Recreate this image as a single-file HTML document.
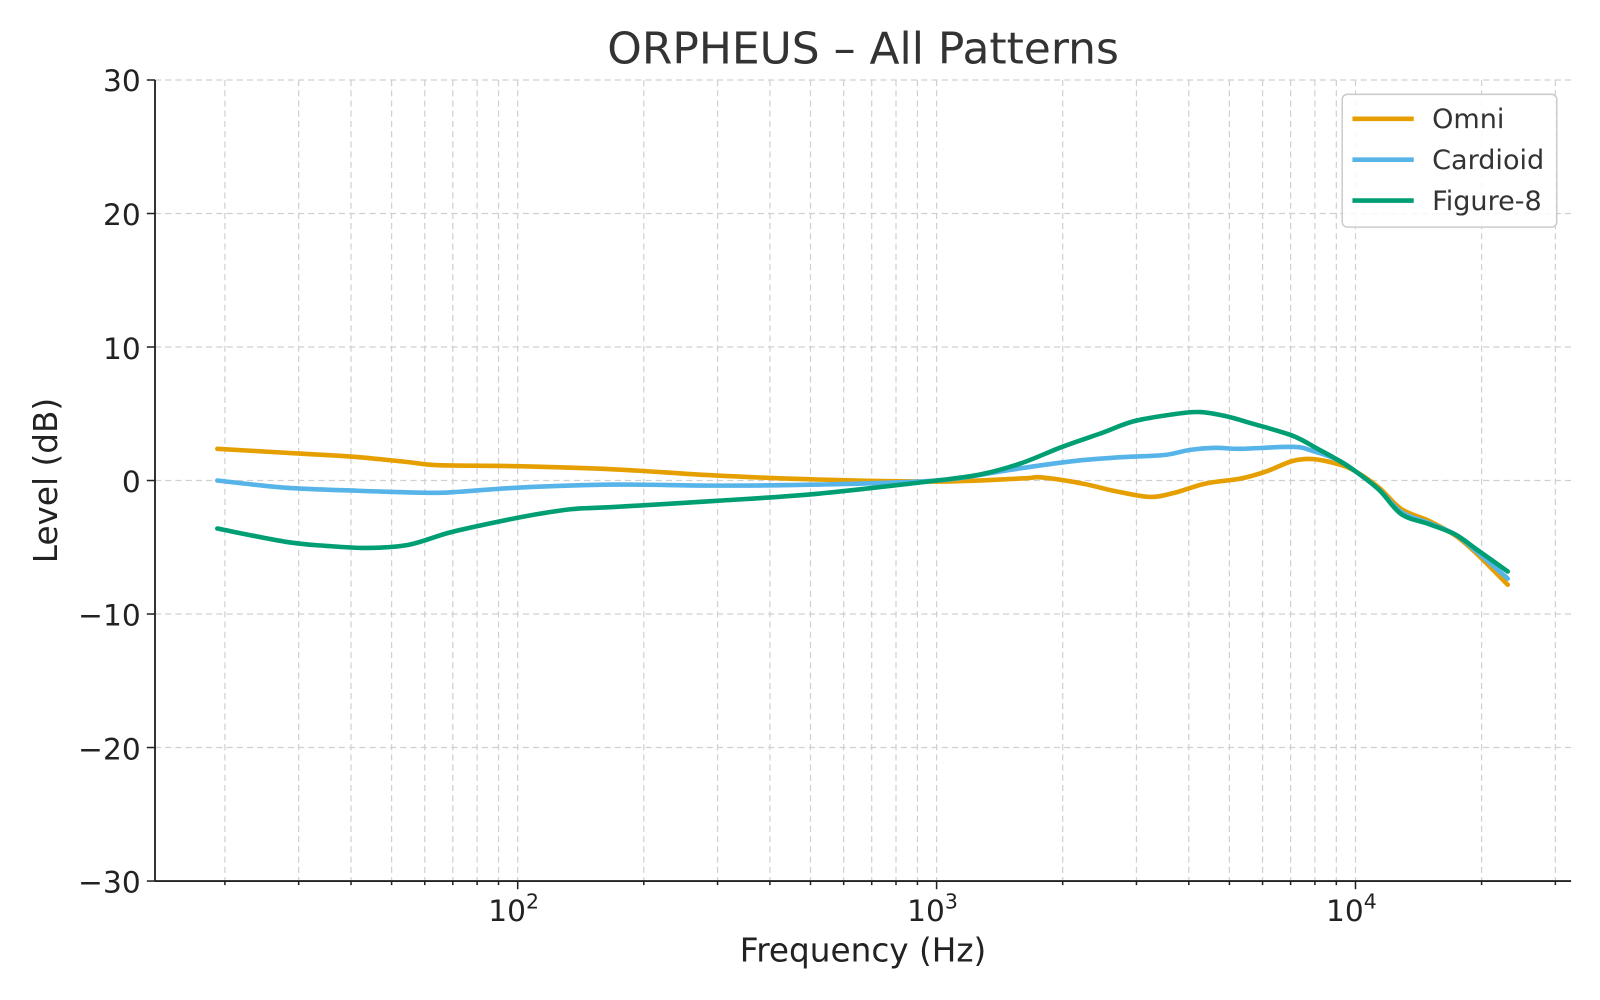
<!DOCTYPE html>
<html><head><meta charset="utf-8"><style>
body{margin:0;background:#fff;}
svg{display:block;font-family:"DejaVu Sans","Liberation Sans",sans-serif;}
</style></head><body>
<svg id="s" width="1600" height="1000" viewBox="0 0 1600 1000" xmlns="http://www.w3.org/2000/svg">
<rect width="1600" height="1000" fill="#fff"/>
<g transform="translate(-0.3,-0.7) scale(1.0217)">
<g id="grid" stroke="#d0d0d0" stroke-width="1.2" stroke-dasharray="6,4"></g>
<g id="ticks" stroke="#222" stroke-width="1.5"></g>
<g fill="none" stroke-width="4.5" stroke-linejoin="round" stroke-linecap="round">
<path id="o" stroke="#E69F00"/>
<path id="c" stroke="#56B4E9"/>
<path id="f" stroke="#009E73"/>
</g>
<line x1="152" y1="79" x2="152" y2="863" stroke="#222" stroke-width="1.8"/>
<line x1="152" y1="863" x2="1538" y2="863" stroke="#222" stroke-width="1.8"/>
<g font-size="29" fill="#222" text-anchor="end">
<text x="138" y="90">30</text><text x="138" y="221">20</text><text x="138" y="352">10</text>
<text x="138" y="482">0</text><text x="138" y="613">−10</text><text x="138" y="744">−20</text><text x="138" y="874">−30</text>
</g>
<g font-size="29" fill="#222" text-anchor="middle">
<text x="503" y="902">10<tspan font-size="20" dy="-12">2</tspan></text>
<text x="913" y="902">10<tspan font-size="20" dy="-12">3</tspan></text>
<text x="1323" y="902">10<tspan font-size="20" dy="-12">4</tspan></text>
<text x="845" y="942" font-size="32">Frequency (Hz)</text>
<text x="845" y="63" font-size="43" fill="#333">ORPHEUS – All Patterns</text>
<text transform="translate(56,471) rotate(-90)" font-size="32">Level (dB)</text>
</g>
<rect x="1314" y="93" width="210" height="130" rx="5" fill="#fff" fill-opacity="0.85" stroke="#ccc" stroke-width="1.5"/>
<g stroke-width="4.5"><line x1="1324" y1="117" x2="1384" y2="117" stroke="#E69F00"/>
<line x1="1324" y1="157" x2="1384" y2="157" stroke="#56B4E9"/>
<line x1="1324" y1="197" x2="1384" y2="197" stroke="#009E73"/></g>
<g font-size="26.5" fill="#333"><text x="1402" y="126">Omni</text><text x="1402" y="166">Cardioid</text><text x="1402" y="206">Figure-8</text></g>
</g>
</svg>
<script>
var ns="http://www.w3.org/2000/svg",g=document.getElementById('grid'),t=document.getElementById('ticks');
function ln(p,a){var l=document.createElementNS(ns,'line');for(var k in a)l.setAttribute(k,a[k]);p.appendChild(l);}
function X(f){return 507+(Math.log10(f)-2)*410;}
for(var d=1;d<=4;d++)for(var m=1;m<=9;m++){var f=m*Math.pow(10,d);if(f<20||f>30000)continue;var x=X(f);
ln(g,{x1:x,y1:79,x2:x,y2:863});ln(t,{x1:x,y1:863,x2:x,y2:m==1?871:867});}
for(var v=-30;v<=30;v+=10){var y=471-v*13.067;ln(g,{x1:152,y1:y,x2:1538,y2:y});ln(t,{x1:144,y1:y,x2:152,y2:y});}
var D={o:"213,440 300,445 350,448 400,453 430,456 507,457 600,460 700,466 800,470 917,472 1000,469 1020,468 1060,474 1090,481 1125,487 1150,483 1180,474 1215,469 1240,462 1265,452 1285,450 1310,455 1327,462 1350,478 1372,499 1400,511 1425,525 1445,542 1476,573",
c:"213,471 280,478 350,481 420,483 450,482 507,478 600,475 700,476 800,475 917,471 980,462 1020,456 1060,451 1100,448 1140,446 1165,441 1190,439 1215,440 1265,438 1285,442 1310,451 1327,462 1350,480 1372,502 1400,513 1425,524 1445,540 1476,567",
f:"213,518 280,531 320,535 360,537 400,534 440,522 480,513 520,505 560,499 600,497 700,491 800,484 917,471 960,465 1000,454 1040,438 1080,424 1110,413 1150,406 1175,404 1200,408 1225,415 1265,427 1290,440 1310,451 1327,462 1350,480 1372,504 1400,514 1425,524 1445,538 1476,560"};
for(var k in D){var p=D[k].split(' ').map(function(s){return s.split(',').map(Number);});
var d='M'+p[0][0]+','+p[0][1];
for(var i=0;i<p.length-1;i++){var p0=p[Math.max(i-1,0)],p1=p[i],p2=p[i+1],p3=p[Math.min(i+2,p.length-1)];
d+=' C'+(p1[0]+(p2[0]-p0[0])/6)+','+(p1[1]+(p2[1]-p0[1])/6)+' '+(p2[0]-(p3[0]-p1[0])/6)+','+(p2[1]-(p3[1]-p1[1])/6)+' '+p2[0]+','+p2[1];}
document.getElementById(k).setAttribute('d',d);}
</script>
</body></html>
